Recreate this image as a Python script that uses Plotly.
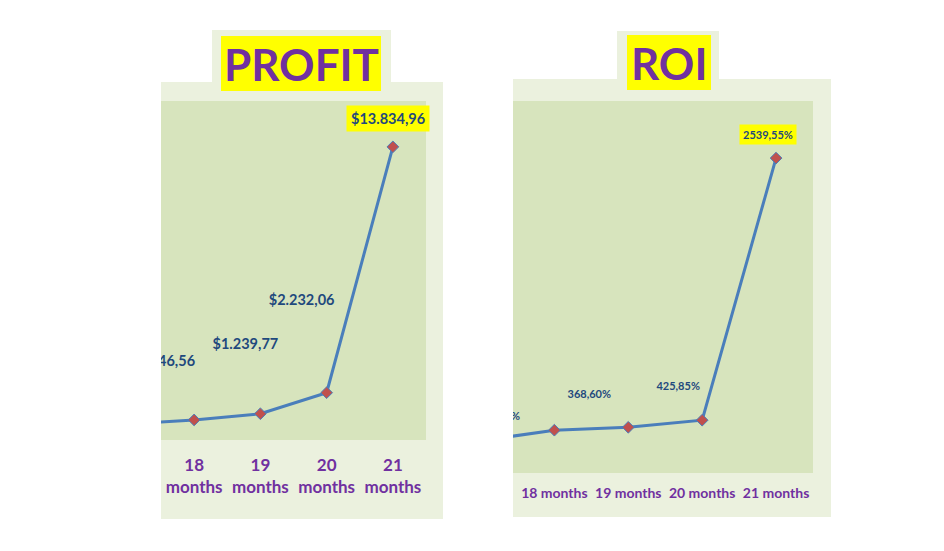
import plotly.graph_objects as go

# the page puts the figure 8px in from the top-left corner
PAD = 8
W, H = 944 - PAD, 551 - PAD

# data
month_num = [17, 18, 19, 20, 21]
profit_ticks = ["17<br>months", "18<br>months", "19<br>months", "20<br>months", "21<br>months"]
roi_ticks = ["17 months", "18 months", "19 months", "20 months", "21 months"]
profit = [760.00, 946.56, 1239.77, 2232.06, 13834.96]
profit_text = ["$760,00", "$946,56", "$1.239,77", "$2.232,06", "$13.834,96"]
roi = [260.00, 345.20, 368.60, 425.85, 2539.55]
roi_text = ["260,00%", "345,20%", "368,60%", "425,85%", "2539,55%"]

# label offsets in pixels (dx, dy up) as placed in the original
profit_off = [(-20, 58), (-26, 58), (-15, 68), (-25, 91), (-5, 28)]
roi_off = [(-58, 13), (-56, 13), (-39, 32), (-24, 33), (-8, 24)]

PURPLE = "#7030A0"
LABEL = "#1F497D"
LINE = "#4A7EBB"
MARK = "#C0504D"
OUTER = "#EBF1DE"
PLOT = "#D7E4BD"
FONT = "Lato"


def px(x0, x1):
    return [(x0 - PAD) / W, (x1 - PAD) / W]


def py(top, bottom):
    return [1 - (bottom - PAD) / H, 1 - (top - PAD) / H]


# plot areas (screen px)
L_X, L_Y = (161, 426), (101, 440)
R_X, R_Y = (513, 813), (101, 473)
L_XR, L_YR = [17.5, 21.5], [0, 16000]
R_XR, R_YR = [17.44, 21.5], [0, 3000]


def label_pos(vals, offs, xr, yr, xpx, ypx):
    ux = (xr[1] - xr[0]) / (xpx[1] - xpx[0])
    uy = (yr[1] - yr[0]) / (ypx[1] - ypx[0])
    xs = [m + o[0] * ux for m, o in zip(month_num, offs)]
    ys = [v + o[1] * uy for v, o in zip(vals, offs)]
    return xs, ys


fig = go.Figure()

for vals, xa, ya in [(profit, "x", "y"), (roi, "x2", "y2")]:
    fig.add_trace(go.Scatter(
        x=month_num, y=vals, xaxis=xa, yaxis=ya, mode="lines+markers",
        line=dict(color=LINE, width=3),
        marker=dict(symbol="diamond", size=9, color=MARK, line=dict(color=LINE, width=1)),
        cliponaxis=True, showlegend=False, hoverinfo="skip",
    ))

# value labels (clipped by the plot area like the cropped original)
lx, ly = label_pos(profit, profit_off, L_XR, L_YR, L_X, L_Y)
fig.add_trace(go.Scatter(
    x=lx[:-1], y=ly[:-1], text=profit_text[:-1], mode="text", xaxis="x", yaxis="y",
    textfont=dict(family=FONT, size=14.5, color=LABEL, weight="bold"),
    cliponaxis=True, showlegend=False, hoverinfo="skip",
))
rx, ry = label_pos(roi, roi_off, R_XR, R_YR, R_X, R_Y)
fig.add_trace(go.Scatter(
    x=rx[:-1], y=ry[:-1], text=roi_text[:-1], mode="text", xaxis="x2", yaxis="y2",
    textfont=dict(family=FONT, size=11, color=LABEL, weight="bold"),
    cliponaxis=True, showlegend=False, hoverinfo="skip",
))

# highlighted last values
fig.add_annotation(x=month_num[-1], y=profit[-1], xref="x", yref="y",
                   text=profit_text[-1], showarrow=False,
                   xshift=profit_off[-1][0], yshift=profit_off[-1][1],
                   bgcolor="#FFFF00", borderpad=4,
                   font=dict(family=FONT, size=14.5, color=LABEL, weight="bold"))
fig.add_annotation(x=month_num[-1], y=roi[-1], xref="x2", yref="y2",
                   text=roi_text[-1], showarrow=False,
                   xshift=roi_off[-1][0], yshift=roi_off[-1][1],
                   bgcolor="#FFFF00", borderpad=3,
                   font=dict(family=FONT, size=11, color=LABEL, weight="bold"))

# titles
for txt, cx, cy in [("PROFIT", 301, 64), ("ROI", 669, 63)]:
    fig.add_annotation(x=(cx - PAD) / W, y=1 - (cy - PAD) / H, xref="paper", yref="paper",
                       text=txt, showarrow=False, xanchor="center", yanchor="middle",
                       font=dict(family=FONT, size=44, color=PURPLE, weight="bold"))


def rect(x0, x1, top, bottom, color):
    fig.add_shape(type="rect", xref="paper", yref="paper",
                  x0=(x0 - PAD) / W, x1=(x1 - PAD) / W,
                  y0=1 - (bottom - PAD) / H, y1=1 - (top - PAD) / H,
                  fillcolor=color, line=dict(width=0), layer="below")


# chart frames, title boxes, plot areas
rect(161, 443, 82, 519, OUTER)
rect(212, 391, 30, 82, OUTER)
rect(L_X[0], L_X[1], L_Y[0], L_Y[1], PLOT)
rect(221, 381, 36, 91, "#FFFF00")
rect(513, 831, 79, 517, OUTER)
rect(617, 719, 31, 79, OUTER)
rect(R_X[0], R_X[1], R_Y[0], R_Y[1], PLOT)
rect(627, 711, 35, 90, "#FFFF00")

axis_common = dict(showgrid=False, zeroline=False, showline=False, ticks="")
fig.update_layout(
    width=W, height=H,
    margin=dict(l=0, r=0, t=0, b=0),
    paper_bgcolor="white", plot_bgcolor=PLOT,
    xaxis=dict(domain=px(*L_X), range=L_XR, tickvals=month_num, ticktext=profit_ticks,
               tickfont=dict(family=FONT, size=17, color=PURPLE, weight="bold"),
               ticklabelstandoff=13, **axis_common),
    yaxis=dict(domain=py(*L_Y), range=L_YR, showticklabels=False, **axis_common),
    xaxis2=dict(domain=px(*R_X), range=R_XR, tickvals=month_num, ticktext=roi_ticks,
                anchor="y2",
                tickfont=dict(family=FONT, size=14, color=PURPLE, weight="bold"),
                ticklabelstandoff=10, **axis_common),
    yaxis2=dict(domain=py(*R_Y), range=R_YR, anchor="x2", showticklabels=False,
                **axis_common),
)

fig.write_html("out.html")
